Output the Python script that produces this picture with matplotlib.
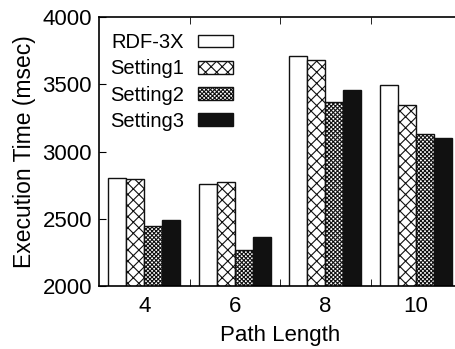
import numpy as np
import matplotlib.pyplot as plt

plt.rcParams['font.family'] = ['Liberation Sans', 'DejaVu Sans']
plt.rcParams['hatch.linewidth'] = 0.8

path_lengths = ['4', '6', '8', '10']
series_names = ['RDF-3X', 'Setting1', 'Setting2', 'Setting3']
rdf3x = [2800, 2756, 3708, 3495]
setting1 = [2793, 2771, 3678, 3343]
setting2 = [2448, 2270, 3370, 3128]
setting3 = [2488, 2362, 3459, 3102]

series = [rdf3x, setting1, setting2, setting3]
faces = ['white', 'white', 'white', '#111111']
hatches = ['', 'xxx', 'xxxxxxxx', '']

fig = plt.figure(figsize=(4.55, 3.49), dpi=100)
# right edge of the axes is cut off in the reference
ax = fig.add_axes([99 / 455, 63 / 349, 362 / 455, 269 / 349])

x = np.arange(len(path_lengths))
w = 0.2
for i, vals in enumerate(series):
    ax.bar(x + (i - 1.5) * w, vals, w, color=faces[i], hatch=hatches[i],
           edgecolor='#111111', linewidth=1.0, label=series_names[i])

ax.set_xlim(-0.5, len(path_lengths) - 0.5)
ax.set_ylim(2000, 4000)
ax.set_yticks([2000, 2500, 3000, 3500, 4000])
ax.set_xticks(x)
ax.set_xticklabels(path_lengths)
ax.set_xticks(x[:-1] + 0.5, minor=True)
ax.tick_params(axis='x', which='major', length=0, pad=7, labelsize=16)
ax.tick_params(axis='x', which='minor', direction='in', length=5, top=True)
ax.tick_params(axis='y', direction='in', length=5, pad=5, labelsize=16)

ax.set_xlabel('Path Length', fontsize=16, labelpad=6)
ax.set_ylabel('Execution Time (msec)', fontsize=16.5, labelpad=5)

for s in ax.spines.values():
    s.set_linewidth(1.2)

ax.legend(loc='upper left', markerfirst=False, frameon=False, fontsize=14.5,
          handlelength=1.75, handleheight=0.6, labelspacing=0.36,
          handletextpad=0.7, borderaxespad=0, borderpad=0,
          bbox_to_anchor=(0.03, 0.94))

fig.savefig('out.png', dpi=100)
